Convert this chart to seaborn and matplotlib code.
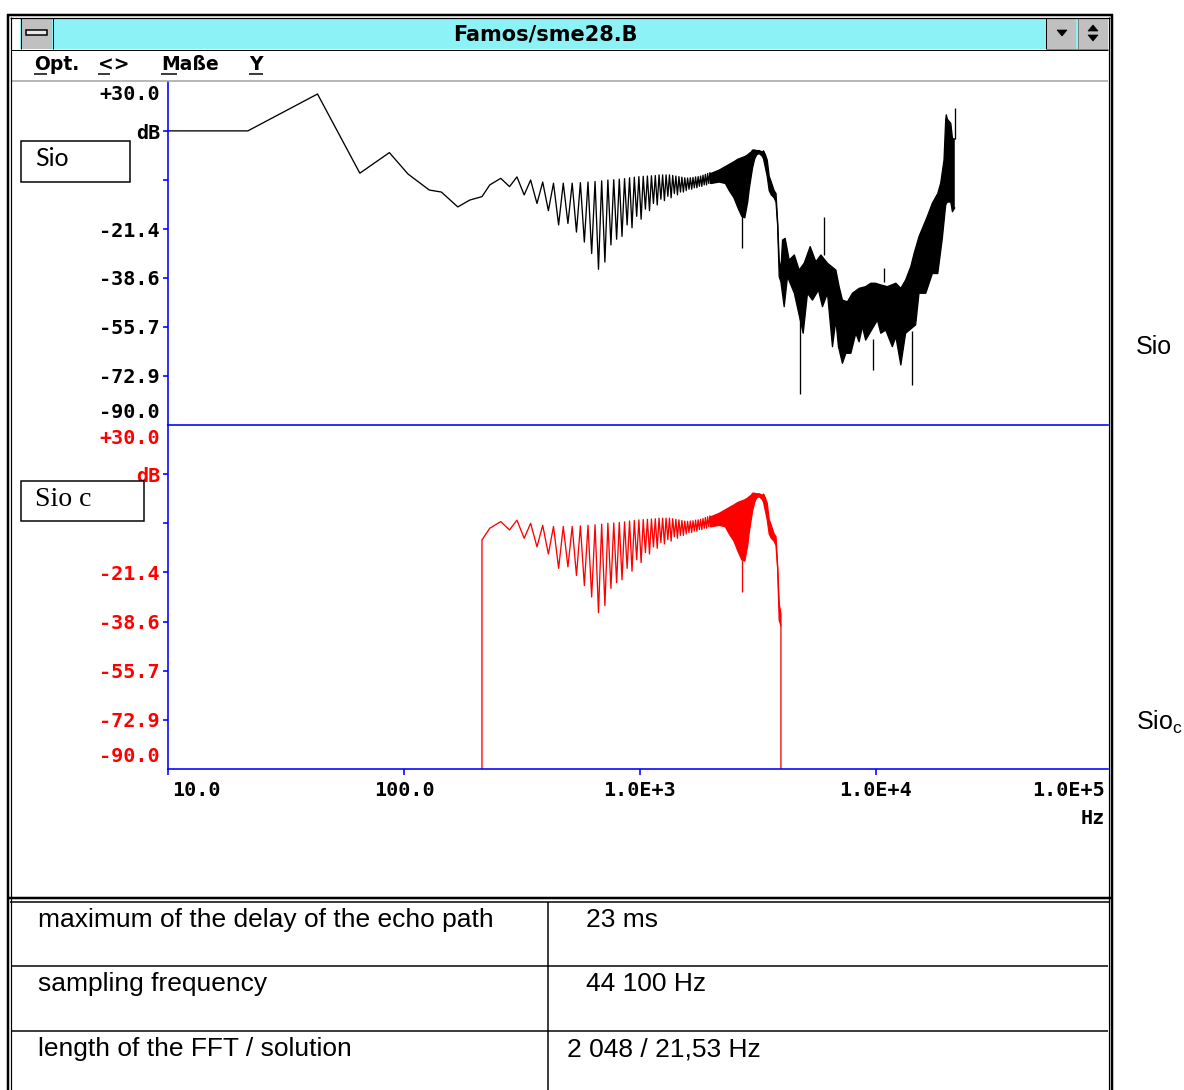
import matplotlib
matplotlib.use("Agg")
import numpy as np
import pandas as pd
import matplotlib.pyplot as plt
import seaborn as sns
from matplotlib.lines import Line2D
from matplotlib.patches import Rectangle, Polygon
from matplotlib.transforms import Affine2D, ScaledTranslation
from matplotlib.ticker import NullLocator

# ---------------- data ----------------
# low-frequency part of the spectrum (Hz, dB)
lf_hz = [10, 21.8, 43, 65, 86.7, 104, 128, 144, 169, 190, 214, 231, 257]
lf_db = [12.9, 12.9, 25.8, -1.9, 5.3, -2.2, -7.8, -8.5, -13.7, -11.3, -10.1, -6.0, -3.7]

# comb region: alternating troughs / peaks (Hz, dB)
comb_hz = [280, 301, 323, 344, 366, 387, 409, 430, 452, 473, 495, 516, 538, 559,
           581, 602, 624, 645, 667, 688, 710, 731, 753, 774, 796, 817, 839, 860,
           882, 903, 925, 946, 968, 989, 1011, 1032, 1054, 1075, 1097, 1118, 1140,
           1161, 1183, 1204, 1226, 1247, 1269, 1290, 1312, 1333, 1355, 1376, 1398,
           1419, 1441, 1462, 1484, 1505, 1527, 1548, 1570, 1591, 1613, 1634, 1656,
           1677, 1699, 1720, 1742, 1763, 1785, 1806, 1828, 1849, 1871, 1892, 1914,
           1935, 1957, 1978, 2000]
comb_db = [-6.6, -3.2, -9.5, -4.3, -12.5, -5.0, -15.0, -5.4, -20.0, -5.4, -19.5, -5.4,
           -22.5, -5.2, -26.0, -5.0, -30.0, -4.8, -35.5, -4.6, -33.0, -4.3, -27.0, -4.2,
           -25.0, -4.0, -24.0, -3.8, -20.0, -3.5, -21.0, -3.3, -17.0, -3.1, -18.0, -3.0,
           -14.5, -2.9, -15.0, -2.8, -12.5, -2.7, -13.0, -2.5, -11.0, -2.5, -11.5, -2.5,
           -10.0, -2.5, -10.5, -2.7, -9.0, -2.9, -9.5, -3.1, -8.5, -3.3, -8.5, -3.5,
           -8.0, -3.6, -7.5, -3.5, -7.5, -3.4, -7.0, -3.2, -7.0, -3.1, -6.5, -2.9,
           -6.5, -2.6, -6.0, -2.3, -6.0, -2.0, -5.5, -1.7, -5.5]

# dense / noisy high-frequency part: upper envelope (Hz, dB)
hi_hz = [2000, 2167, 2300, 2389, 2500, 2600, 2700, 2780, 2860, 2903, 2960, 3000,
         3060, 3120, 3200, 3300, 3340, 3400, 3460, 3528, 3600, 3700, 3770, 3830,
         3889, 3955, 4018, 4121, 4287, 4508, 4726, 4962, 5262, 5562, 5840, 6230,
         6760, 6980, 7208, 7568, 7946, 8480, 9040, 9506, 9940, 10480, 11170, 12140,
         12740, 13350, 14040, 14500, 15210, 16490, 17330, 18270, 18800, 19420,
         19740, 19860, 20060, 20750, 21080, 21570]
hi_db = [-2.0, -0.8, 0.4, 1.2, 2.1, 3.0, 3.5, 3.9, 4.5, 5.0, 5.5, 6.2,
         6.2, 6.0, 6.0, 5.5, 5.9, 4.5, 2.7, -3.0, -5.0, -8.0, -9.0, -19.0,
         -32.3, -36.0, -25.3, -24.7, -32.3, -30.5, -35.8, -33.4, -27.6, -32.9, -30.5, -33.4,
         -35.8, -41.6, -46.3, -46.9, -43.9, -42.2, -41.6, -40.4, -40.4, -41.0, -41.6, -40.4,
         -42.2, -39.3, -34.6, -30.0, -24.1, -17.1, -12.4, -9.0, -5.4, 2.7,
         16.7, 18.5, 17.0, 15.5, 10.3, 10.0]
# lower envelope (Hz, dB)
lo_hz = [2000, 2167, 2300, 2389, 2500, 2600, 2700, 2780, 2860, 2903, 2960, 3000,
         3060, 3120, 3200, 3300, 3340, 3400, 3460, 3528, 3600, 3700, 3770, 3830,
         3889, 3955, 4083, 4217, 4508, 4914, 5125, 5381, 5705, 5932, 6230, 6540,
         6760, 6933, 7208, 7452, 7824, 8212, 8480, 8761, 9040, 10140, 10480, 11000,
         11730, 12140, 12740, 13350, 14720, 15210, 16250, 17330, 18270, 19100,
         19740, 20060, 20750, 21080, 21570]
lo_db = [-5.5, -5.0, -5.5, -8.0, -10.5, -14.0, -17.0, -17.5, -12.0, -7.5, -3.0, 0.0,
         3.0, 4.5, 5.0, 4.0, 3.0, 0.0, -3.0, -8.0, -9.5, -10.5, -12.0, -20.0,
         -38.1, -40.0, -48.6, -38.1, -43.9, -57.9, -43.9, -46.3, -42.8, -48.6, -43.9, -62.6,
         -53.3, -62.6, -68.4, -64.9, -64.9, -57.9, -60.9, -55.6, -60.3, -53.3, -57.9, -56.8,
         -62.6, -59.1, -69.0, -57.9, -55.0, -43.9, -43.9, -37.0, -37.0, -24.7,
         -13.0, -12.0, -12.0, -15.4, -14.0]

# isolated spikes (Hz, from dB, to dB)
spike_hz = [2700, 4760, 6032, 9730, 10780, 14240, 21570]
spike_base = [-17.0, -50.0, -30.5, -60.0, -40.0, -57.0, 10.0]
spike_tip = [-28.2, -79.0, -17.1, -70.8, -35.2, -76.0, 20.8]

# pass band of the compensated signal Sio c
band_lo_hz = 214
band_hi_hz = 3955

db_ticks = [-90.0, -72.857, -55.714, -38.571, -21.429, -4.286, 12.857, 30.0]
db_labels = ["-90.0", "-72.9", "-55.7", "-38.6", "-21.4", "", "dB", "+30.0"]
hz_ticks = [10, 100, 1000, 10000, 100000]
hz_labels = ["10.0", "100.0", "1.0E+3", "1.0E+4", "1.0E+5"]

table_left = ["maximum of the delay of the echo path", "sampling frequency",
              "length of the FFT / solution"]
table_right = ["23 ms", "44 100 Hz", "2 048 / 21,53 Hz"]

# ---------------- figure ----------------
sns.set_theme(style="white")
plt.rcParams["font.family"] = ["DejaVu Sans"]
plt.rcParams["mathtext.fontset"] = "custom"
plt.rcParams["mathtext.rm"] = "Liberation Sans"

W, H = 1184, 1090
DPI = 100
PT = 72.0 / DPI
fig = plt.figure(figsize=(W / DPI, H / DPI), dpi=DPI, facecolor="white")
pix = Affine2D().scale(1.0 / W, -1.0 / H).translate(0, 1) + fig.transFigure

BLUE = "#0000FF"
RED = "#FF0000"
X0, X1, DEC = 168, 1108, 236.0
x_max = 10 ** (1 + (X1 - X0) / DEC)
mono = dict(family="DejaVu Sans Mono", weight="bold", size=14.5)
LW = 0.95


def shift(tr, dx, dy):
    return tr + ScaledTranslation(dx / DPI, -dy / DPI, fig.dpi_scale_trans)


def make_axes(top, bot):
    ax = fig.add_axes([X0 / W, 1 - bot / H, (X1 - X0) / W, (bot - top) / H])
    ax.set_xscale("log")
    return ax


def style_axes(ax, label_color):
    ax.set_xlim(10, x_max)
    ax.set_ylim(db_ticks[0], db_ticks[-1])
    ax.patch.set_alpha(0)
    ax.grid(False)
    ax.set_xlabel("")
    ax.set_ylabel("")
    for s in ("top", "right"):
        ax.spines[s].set_visible(False)
    for s in ("left", "bottom"):
        ax.spines[s].set_color(BLUE)
        ax.spines[s].set_linewidth(1.6 * PT)
    ax.xaxis.set_minor_locator(NullLocator())
    ax.yaxis.set_minor_locator(NullLocator())
    ax.set_yticks(db_ticks[1:-1])
    ax.set_yticklabels(db_labels[1:-1], color=label_color, **mono)
    ax.tick_params(axis="y", direction="out", length=5 * PT, width=1.6 * PT,
                   color=BLUE, pad=3 * PT, left=True)
    ytr = ax.get_yaxis_transform()
    ax.text(0, db_ticks[-1], db_labels[-1], transform=shift(ytr, -8, 13),
            ha="right", va="center", color=label_color, **mono)
    ax.text(0, db_ticks[0], db_labels[0], transform=shift(ytr, -8, -12),
            ha="right", va="center", color=label_color, **mono)


def draw_spectrum(ax, color, line_x, line_y, hx, hy, lx, ly, sx, sb, st):
    sns.lineplot(x=line_x, y=line_y, ax=ax, color=color, linewidth=LW,
                 sort=False, estimator=None, legend=False)
    sns.lineplot(x=lx, y=ly, ax=ax, color=color, linewidth=LW,
                 sort=False, estimator=None, legend=False)
    poly_x = list(hx) + list(lx)[::-1]
    poly_y = list(hy) + list(ly)[::-1]
    ax.fill(poly_x, poly_y, color=color, linewidth=0)
    ax.vlines(sx, sb, st, colors=color, linewidth=LW)


ax_top = make_axes(82, 425)
ax_bot = make_axes(425, 769)

# ---- top panel: Sio (black) ----
draw_spectrum(ax_top, "black",
              lf_hz + comb_hz + hi_hz, lf_db + comb_db + hi_db,
              hi_hz, hi_db, lo_hz, lo_db, spike_hz, spike_base, spike_tip)

# ---- bottom panel: Sio c (red), band-limited ----
lf_a, lf_d = np.array(lf_hz), np.array(lf_db)
m1 = lf_a >= band_lo_hz
hx, hy = np.array(hi_hz), np.array(hi_db)
mh = hx <= band_hi_hz
lx, ly = np.array(lo_hz), np.array(lo_db)
ml = lx <= band_hi_hz
sx, sb, st = np.array(spike_hz), np.array(spike_base), np.array(spike_tip)
ms = sx <= band_hi_hz
red_x = [band_lo_hz] + list(lf_a[m1]) + comb_hz + list(hx[mh]) + [band_hi_hz]
red_y = [db_ticks[0]] + list(lf_d[m1]) + comb_db + list(hy[mh]) + [db_ticks[0]]
draw_spectrum(ax_bot, RED, red_x, red_y, hx[mh], hy[mh], lx[ml], ly[ml],
              sx[ms], sb[ms], st[ms])

style_axes(ax_top, "black")
style_axes(ax_bot, RED)
ax_top.set_xticks([])
ax_top.tick_params(axis="x", bottom=False, labelbottom=False)
ax_bot.set_xticks(hz_ticks[:4])
ax_bot.set_xticklabels([""] + hz_labels[1:4], color="black", **mono)
ax_bot.tick_params(axis="x", direction="out", length=6 * PT, width=1.6 * PT,
                   color=BLUE, pad=6 * PT, bottom=True)
xtr = ax_bot.get_xaxis_transform()
ax_bot.text(hz_ticks[0], 0, hz_labels[0], transform=shift(xtr, 4, 21),
            ha="left", va="center", color="black", **mono)
ax_bot.text(1, 0, hz_labels[4], transform=shift(ax_bot.transAxes, -3, 21),
            ha="right", va="center", color="black", **mono)
ax_bot.text(1, 0, "Hz", transform=shift(ax_bot.transAxes, -3, 50),
            ha="right", va="center", color="black", **mono)


# ---------------- window decoration ----------------
def hline(y, x0, x1, lw=1.0, color="black"):
    fig.add_artist(Line2D([x0, x1], [y, y], transform=pix, lw=lw * PT, color=color,
                          solid_capstyle="butt"))


def vline(x, y0, y1, lw=1.0, color="black"):
    fig.add_artist(Line2D([x, x], [y0, y1], transform=pix, lw=lw * PT, color=color,
                          solid_capstyle="butt"))


def rect(x, y, w, h, fc, ec="none", lw=1.0):
    fig.add_artist(Rectangle((x, y), w, h, transform=pix, fc=fc, ec=ec, lw=lw * PT))


def tri(pts, color="black"):
    fig.add_artist(Polygon(pts, closed=True, transform=pix, fc=color, ec=color, lw=0.5))


# title bar
rect(20, 18, 1088, 31, "#8CF2F5")
rect(21, 18, 31, 31, "#C0C0C0")
vline(20.5, 18, 49)
vline(52.5, 18, 49)
rect(26, 30, 21, 5, "#E8E8E8", ec="black", lw=1.5)
rect(1046, 18, 30, 31, "#C0C0C0")
rect(1078, 18, 30, 31, "#C0C0C0")
vline(1045.5, 18, 49)
vline(1077.5, 18, 49, color="#808080")
hline(48.5, 1046, 1108, color="#808080")
tri([(1057, 30), (1067, 30), (1062, 36)])
tri([(1088, 31), (1098, 31), (1093, 25)])
tri([(1088, 35), (1098, 35), (1093, 41)])
hline(49.5, 11, 1108)
fig.text(545, 34, "Famos/sme28.B", transform=pix, ha="center", va="center",
         family="DejaVu Sans", weight="bold", size=15, color="black")

# menu bar
menu_items = [("Opt.", 34, 47), ("<>", 98, 110), ("Maße", 161, 177), ("Y", 249, 263)]
for txt, xm, xu in menu_items:
    fig.text(xm, 65, txt, transform=pix, ha="left", va="center",
             family="DejaVu Sans", weight="bold", size=13.5, color="black")
    hline(73.5, xm, xu, lw=1.5)
hline(81, 11, 1108, lw=1.5, color="#A0A0A0")

# frame lines
vline(8, 14, 1090, lw=2.5)
vline(11, 17, 1090, lw=1.2)
hline(14.5, 7, 1113, lw=2.5)
hline(17.5, 10, 1110, lw=1.2)
vline(1112, 14, 1090, lw=2.5)
vline(1108.5, 17, 1090, lw=1.2)
hline(897.5, 7, 1113, lw=2.5)
hline(902, 10, 1110, lw=1.5)

# series name boxes
rect(21, 141, 109, 41, "white", ec="black", lw=1.5)
fig.text(35, 159, "Sio", transform=pix, ha="left", va="center",
         family="Lato", size=18, color="black")
rect(21, 481, 123, 40, "white", ec="black", lw=1.5)
fig.text(35, 500, "Sio c", transform=pix, ha="left", va="center",
         family="Liberation Serif", size=20, color="black")

# labels outside the window
fig.text(1136, 347, "Sio", transform=pix, ha="left", va="center",
         family="Liberation Sans", size=18, color="black")
fig.text(1136, 722, "Sio$_{\\mathrm{c}}$", transform=pix, ha="left", va="center",
         family="Liberation Sans", size=18, color="black")

# ---------------- table ----------------
row_tops = [902, 966, 1031]
for y in row_tops[1:]:
    hline(y, 11, 1108, lw=1.5)
vline(548, 902, 1090, lw=1.5)
right_x = [586, 586, 567]
for i, (lt, rt) in enumerate(zip(table_left, table_right)):
    yc = row_tops[i] + 18
    fig.text(38, yc, lt, transform=pix, ha="left", va="center",
             family="Liberation Sans", size=19, color="black")
    fig.text(right_x[i], yc, rt, transform=pix, ha="left", va="center",
             family="Liberation Sans", size=19, color="black")

fig.savefig("out.png", dpi=DPI, facecolor="white")
